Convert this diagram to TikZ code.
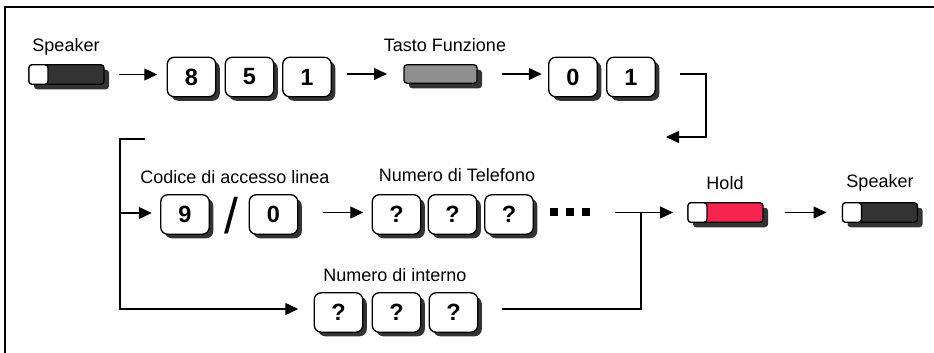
\documentclass[tikz,border=0pt]{standalone}
\usepackage{fontspec}
\setmainfont{Liberation Sans}
\usetikzlibrary{arrows.meta,shadows}
\definecolor{darkbtn}{RGB}{51,51,51}
\definecolor{graybtn}{RGB}{143,143,143}
\definecolor{holdred}{RGB}{247,36,79}
\begin{document}
\begin{tikzpicture}[x=1pt,y=-1pt,
  lbl/.style={font=\fontsize{18}{18}\selectfont, inner sep=0pt},
  keybox/.style={draw, line width=1.3pt, fill=white, rounded corners=7pt,
    minimum width=48.5pt, minimum height=39.5pt, inner sep=0pt, outer sep=0pt,
    font=\fontsize{23.5}{24}\selectfont\bfseries,
    drop shadow={shadow xshift=4pt, shadow yshift=-4pt, fill=darkbtn, opacity=1}},
  btn/.style={draw, line width=1.3pt, rounded corners=3pt, minimum width=75pt,
    minimum height=19.5pt, inner sep=0pt, outer sep=0pt,
    drop shadow={shadow xshift=5pt, shadow yshift=-5pt, fill=darkbtn, opacity=1}},
  knob/.style={draw, line width=1.3pt, fill=white, rounded corners=3pt},
  conn/.style={line width=1.4pt},
  arr/.style={conn, -{Triangle[length=13pt,width=12pt]}},
  dotsq/.style={fill=black, minimum size=8pt, inner sep=0pt, outer sep=0pt}
]
\useasboundingbox (0,0) rectangle (934,353);
% frame
\draw[line width=2pt] (5,353) -- (5,7) -- (934,7);

% ---- row 1
\node[btn, fill=darkbtn] (spk1) at (66.5,74.5) {};
\draw[knob] (spk1.north west) rectangle ++(19,19.5);
\node[lbl] (lspk1) at (66,47) {Speaker};

\node[keybox] (k8) at (191.5,77) {8};
\node[keybox] (k5) at (249.5,77) {5};
\node[keybox] (k1) at (307,77) {1};

\node[btn, fill=graybtn, minimum width=73pt, minimum height=18.5pt] (tf) at (440.5,74) {};
\node[lbl] (ltf) at (445,45) {Tasto Funzione};

\node[keybox] (k0a) at (573,77) {0};
\node[keybox] (k1b) at (631,77) {1};

\draw[arr, shorten <=15pt, shorten >=10pt] (spk1.east) -- (spk1.east -| k8.west);
\draw[arr, shorten <=16pt, shorten >=17pt] (tf.west -| k1.east) -- (tf.west);
\draw[arr, shorten <=25pt, shorten >=7pt] (tf.east) -- (tf.east -| k0a.west);

\coordinate (c1) at (706,74);
\coordinate (c2) at (706,137);
\coordinate (c3) at (666,137);
\draw[arr, shorten <=25pt] (c1 -| k1b.east) -- (c1) -- (c2) -- (c3);

% ---- row 2
\node[btn, fill=holdred] (hold) at (725.5,212.5) {};
\draw[knob] (hold.north west) rectangle ++(19,19.5);
\node[lbl] (lhold) at (725,183) {Hold};

\node[btn, fill=darkbtn] (spk2) at (880,212.5) {};
\draw[knob] (spk2.north west) rectangle ++(19,19.5);
\node[lbl] (lspk2) at (880,183) {Speaker};

\node[keybox] (k9) at (185,214.5) {9};
\node[inner sep=0pt, font=\fontsize{50}{50}\selectfont] (sl) at (231,216) {/};
\node[keybox] (k0b) at (273.5,214.5) {0};
\node[lbl] (lcod) at (235,177) {Codice di accesso linea};

\node[keybox] (q1) at (396.5,214.5) {?};
\node[keybox] (q2) at (452.5,214.5) {?};
\node[keybox] (q3) at (509,214.5) {?};
\node[lbl] (ltel) at (457,175) {Numero di Telefono};

\node[dotsq] (d1) at (554,212) {};
\node[dotsq] (d2) at (570,212) {};
\node[dotsq] (d3) at (586,212) {};

% ---- row 3
\node[keybox] (qi1) at (338.5,312.5) {?};
\node[keybox] (qi2) at (396.5,312.5) {?};
\node[keybox] (qi3) at (453.5,312.5) {?};
\node[lbl] (lint) at (395,275) {Numero di interno};

% ---- connectors rows 2/3
\coordinate (b0) at (145,139);
\coordinate (b1) at (120,139);
\coordinate (b2) at (120,309);
\coordinate (b3) at (120,213);
\draw[arr, shorten >=16pt] (b0) -- (b1) -- (b2) -- (b2 -| qi1.west);
\draw[arr, shorten >=9pt] (b3) -- (b3 -| k9.west);
\draw[arr, shorten <=25.5pt, shorten >=9pt] (hold.west -| k0b.east) -- (hold.west -| q1.west);

\coordinate (m0) at (615,212.5);
\coordinate (j1) at (641,212.5);
\draw[arr, shorten >=15pt] (m0) -- (hold.west);
\draw[conn, shorten <=24.5pt] (qi3.east |- b2) -- (j1 |- b2) -- (j1);
\draw[arr, shorten <=22pt, shorten >=16pt] (hold.east) -- (spk2.west);
\end{tikzpicture}
\end{document}
